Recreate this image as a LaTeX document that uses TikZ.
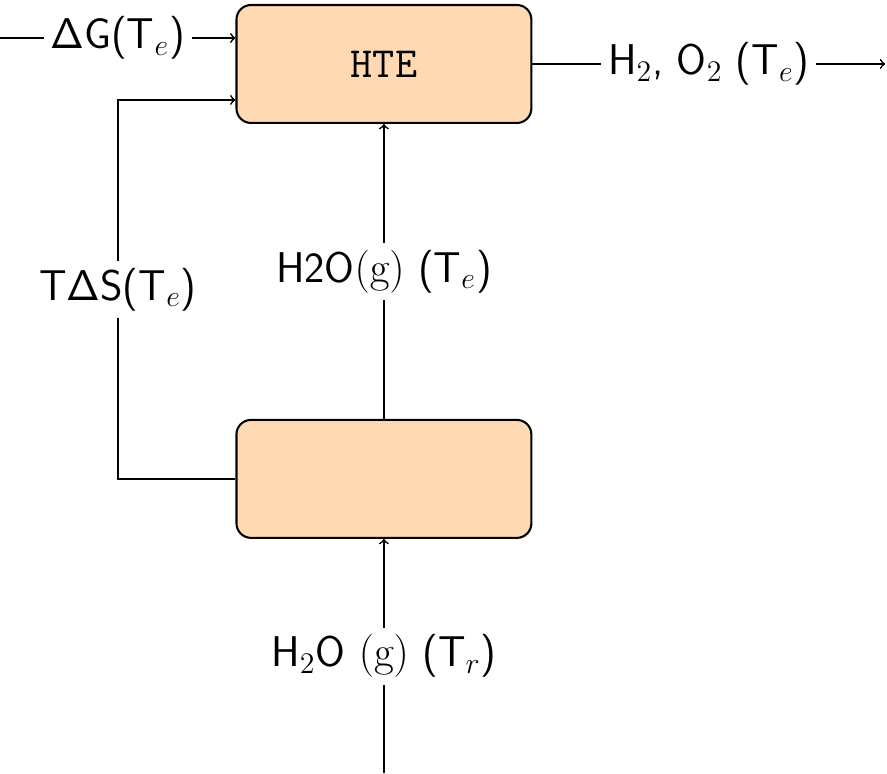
\documentclass[tikz,border=0pt]{standalone}
\usetikzlibrary{positioning}

\begin{document}
\begin{tikzpicture}[font=\huge\sffamily,>=to,thick,
  block/.style={draw,line width=1pt,fill=orange!30,rounded corners=7pt,minimum width=5cm,minimum height=2cm},
  lbl/.style={fill=white}]
  \useasboundingbox (-6.51,-12.03) rectangle (8.53,1.085);
  % Bloecke
  \node[block] (hte) at (0,0) {\texttt{HTE}};
  \node[block,below=5cm of hte] (pre) {};
  % Hilfspunkte
  \coordinate (gin) at (-6.51,0.44);
  \coordinate (out) at (8.5,0);
  \coordinate (win) at (0,-12.03);
  \coordinate (lx) at (-4.51,-0.61);
  % Zufluesse
  \draw[->] (gin) -- node[lbl]{ΔG(T$_e$)} (gin -| hte.west);
  \draw[->] (pre.west) -| node[lbl,pos=.75]{TΔS(T$_e$)} (lx) -- (lx -| hte.west);
  \draw[->] (win) -- node[lbl]{H$_2$O $\mathrm{(g)}$ (T$_r$)} (pre);
  \draw[->] (pre) -- node[lbl]{H2O$\mathrm{(g)}$ (T$_e$)} (hte);
  % Abfluss
  \draw[->] (hte.east) -- node[lbl]{H$_2$, O$_2$ (T$_e$)} (out);
\end{tikzpicture}
\end{document}
